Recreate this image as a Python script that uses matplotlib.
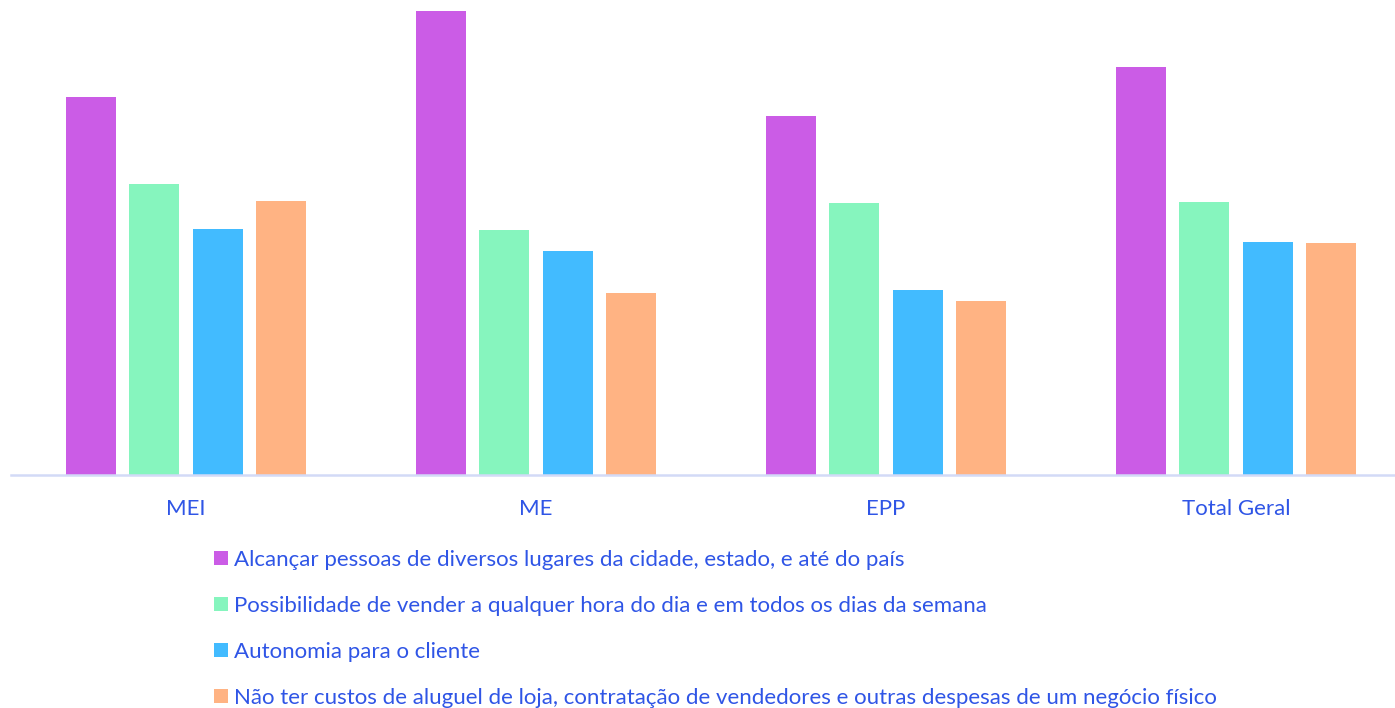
import matplotlib
matplotlib.use("Agg")
import matplotlib.pyplot as plt
from matplotlib.patches import Patch
import numpy as np

categories = ["MEI", "ME", "EPP", "Total Geral"]
series_names = [
    "Alcançar pessoas de diversos lugares da cidade, estado, e até do país",
    "Possibilidade de vender a qualquer hora do dia e em todos os dias da semana",
    "Autonomia para o cliente",
    "Não ter custos de aluguel de loja, contratação de vendedores e outras despesas de um negócio físico",
]
alcancar = [37.8, 46.4, 35.9, 40.8]
possibilidade = [29.1, 24.5, 27.2, 27.3]
autonomia = [24.6, 22.4, 18.5, 23.3]
sem_custos = [27.4, 18.2, 17.4, 23.2]

colors = ["#CB5CE6", "#86F5BE", "#42BBFF", "#FFB383"]
text_color = "#2F55E6"

plt.rcParams["font.family"] = ["Lato", "DejaVu Sans"]

W, H = 1395, 708
fig = plt.figure(figsize=(W / 100, H / 100), dpi=100)
# axes: left edge at x=11px, bottom at y=475px, top at y=11px
ax = fig.add_axes([11 / W, 1 - 475 / H, (W - 11) / W, (475 - 11) / H])

x = np.arange(len(categories))
step = 63.5 / 350
width = 50 / 350
all_series = [alcancar, possibilidade, autonomia, sem_custos]
for i, (vals, c, name) in enumerate(zip(all_series, colors, series_names)):
    ax.bar(x + (i - 1.5) * step, vals, width=width, color=c, label=name)

ax.set_xlim(-0.5, -0.5 + (W - 11) / 350)
ax.set_ylim(0, 46.4)
ax.set_yticks([])
ax.set_xticks(x)
ax.set_xticklabels(categories, fontsize=16, color=text_color)
ax.tick_params(axis="x", length=0, pad=17)
for s in ["top", "right", "left"]:
    ax.spines[s].set_visible(False)
ax.spines["bottom"].set_color("#D3DAF7")
ax.spines["bottom"].set_linewidth(1.8)

handles = [Patch(facecolor=c, edgecolor="none") for c in colors]
leg = fig.legend(handles, series_names, loc="upper left",
                 bbox_to_anchor=(214 / W, 1 - 550 / H),
                 frameon=False, fontsize=16, labelcolor=text_color,
                 handlelength=0.63, handleheight=0.63, handletextpad=0.28,
                 labelspacing=1.17, borderpad=0, borderaxespad=0)

fig.savefig("out.png", dpi=100)
